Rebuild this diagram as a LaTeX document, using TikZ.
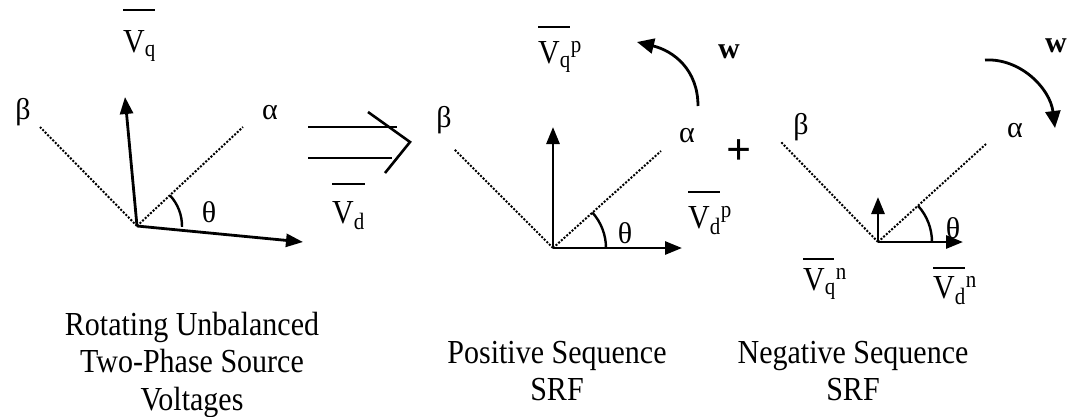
\documentclass[tikz,border=0pt]{standalone}
\usepackage{fontspec}
\setmainfont{Liberation Serif}
\usetikzlibrary{arrows.meta}
\newcommand{\vst}[1]{\scalebox{1}[1.12]{#1}}
\newcommand{\ovl}[3]{\scalebox{1}[1.12]{\vbox{\hrule width #2 height 2pt\kern #3\hbox{\smash{#1}\vphantom{V}}}}}
\newcommand{\capt}[1]{\scalebox{1}[1.12]{\begin{tabular}[t]{@{}c@{}}#1\end{tabular}}}
\tikzset{
  lbl/.style={inner sep=0pt, font=\fontsize{30}{33.5}\selectfont},
  vec/.style={line width=2.8pt, -{Triangle[length=17pt,width=13pt]}},
  ax/.style={line width=2pt, dash pattern=on 2pt off 1.6pt},
  ang/.style={line width=2.4pt},
  rot/.style={line width=2.8pt, -{Triangle[length=17pt,width=15pt]}},
  impl/.style={line width=2.6pt, line join=miter}
}
\begin{document}
\begin{tikzpicture}[x=1pt,y=-1pt]
\path[use as bounding box] (0,0) rectangle (1077,416);

% ---------- Diagram 1 ----------
\coordinate (o1) at (137,226);
\coordinate (b1) at (40,127);
\coordinate (a1) at (243,127);
\coordinate (q1) at (125,97);
\coordinate (d1) at (303,242);
\draw[ax] (o1) -- (b1);
\draw[ax] (o1) -- (a1);
\draw[vec] (o1) -- (q1);
\draw[vec] (o1) -- (d1);
\draw[ang] ([shift={(43:45pt)}]o1) arc[start angle=43, end angle=-1, radius=45pt];
\node[lbl] (beta1) at (23,112) {β};
\node[lbl] (alpha1) at (270,113) {α};
\node[lbl] (theta1) at (209,212) {θ};
\node[lbl, anchor=base west] (vq1) at (123,52) {\ovl{V\textsubscript{q}}{32pt}{17pt}};
\node[lbl, anchor=base west] (vd1) at (332,223) {\ovl{V\textsubscript{d}}{33pt}{14pt}};

% ---------- implication arrow ----------
\coordinate (i1s) at (308,127);
\coordinate (i1e) at (397,127);
\coordinate (i2s) at (308,158);
\coordinate (i2e) at (392,158);
\coordinate (c1) at (368,112);
\coordinate (c2) at (410,142);
\coordinate (c3) at (385,173);
\draw[impl] (i1s) -- (i1e);
\draw[impl] (i2s) -- (i2e);
\draw[impl] (c1) -- (c2) -- (c3);

% ---------- Diagram 2 ----------
\coordinate (o2) at (553,248);
\coordinate (b2) at (454,149);
\coordinate (a2) at (661,151);
\coordinate (q2) at (553,127);
\coordinate (d2) at (682,248);
\draw[ax] (o2) -- (b2);
\draw[ax] (o2) -- (a2);
\draw[vec] (o2) -- (q2);
\draw[vec] (o2) -- (d2);
\draw[ang] ([shift={(42:53pt)}]o2) arc[start angle=42, end angle=0, radius=53pt];
\node[lbl] (beta2) at (444,120) {β};
\node[lbl] (alpha2) at (687,136) {α};
\node[lbl] (theta2) at (625,233) {θ};
\node[lbl, anchor=base west] (vq2) at (538,63) {\ovl{V\textsubscript{q}\textsuperscript{p}}{32pt}{11.5pt}};
\node[lbl, anchor=base west] (vd2) at (688,228) {\ovl{V\textsubscript{d}\textsuperscript{p}}{32pt}{11.5pt}};
\coordinate (r1s) at (698,106);
\coordinate (r1e) at (637,42);
\draw[rot] (r1s) .. controls (698,70) and (674,51) .. (r1e);
\node[lbl, font=\fontsize{30}{33.5}\selectfont\bfseries] (w1) at (729,52) {w};

\node[lbl, font=\fontsize{44}{44}\selectfont\bfseries] (plus) at (739,152) {+};

% ---------- Diagram 3 ----------
\coordinate (o3) at (878,242);
\coordinate (b3) at (781,142);
\coordinate (a3) at (986,144);
\coordinate (q3) at (878,197);
\coordinate (d3) at (963,242);
\draw[ax] (o3) -- (b3);
\draw[ax] (o3) -- (a3);
\draw[vec] (o3) -- (q3);
\draw[vec] (o3) -- (d3);
\draw[ang] ([shift={(42:54pt)}]o3) arc[start angle=42, end angle=0, radius=54pt];
\node[lbl] (beta3) at (801,127) {β};
\node[lbl] (alpha3) at (1015,131) {α};
\node[lbl] (theta3) at (953,228) {θ};
\node[lbl, anchor=base west] (vq3) at (803,290) {\ovl{V\textsubscript{q}\textsuperscript{n}}{31pt}{7pt}};
\node[lbl, anchor=base west] (vd3) at (933,298) {\ovl{V\textsubscript{d}\textsuperscript{n}}{32pt}{6pt}};
\coordinate (r2s) at (985,60);
\coordinate (r2e) at (1055,128);
\draw[rot] (r2s) .. controls (1020,58) and (1050,88) .. (r2e);
\node[lbl, font=\fontsize{30}{33.5}\selectfont\bfseries] (w2) at (1056,46) {w};

% ---------- captions ----------
\node[lbl, anchor=base] (cap1) at (192,335) {\capt{Rotating Unbalanced\\Two-Phase Source\\Voltages}};
\node[lbl, anchor=base] (cap2) at (557,363) {\capt{Positive Sequence\\SRF}};
\node[lbl, anchor=base] (cap3) at (853,363) {\capt{Negative Sequence\\SRF}};
\end{tikzpicture}
\end{document}
